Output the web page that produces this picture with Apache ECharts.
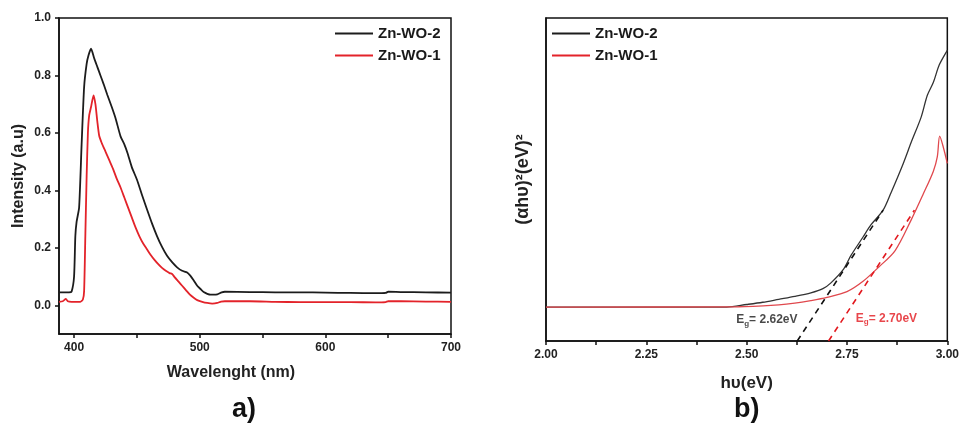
<!DOCTYPE html>
<html><head><meta charset="utf-8">
<script src="https://cdn.jsdelivr.net/npm/echarts@6/dist/echarts.min.js"></script>
<style>html,body{margin:0;padding:0;background:#fff}#c{width:962px;height:428px}</style>
</head><body><div id="c"></div>
<script>
// ---- Panel a) photoluminescence ----
const wlZnWO2 = [388,392,396,398,400,401,402,404,406,408,410,411.5,413.5,416,418.5,421,423.5,426.5,430,433,437,440,442.5,446,450,454,458,462,466,470,474,478,482,486,490,492.5,495,498,501,503.5,506,508.5,511,514,517.5,520,540,560,580,600,620,640,648,650,660,680,700];
const intZnWO2 = [0.045,0.045,0.045,0.047,0.1,0.24,0.29,0.34,0.56,0.76,0.84,0.87,0.893,0.86,0.83,0.80,0.77,0.732,0.69,0.651,0.588,0.56,0.53,0.48,0.438,0.385,0.334,0.285,0.241,0.203,0.172,0.15,0.132,0.12,0.114,0.103,0.088,0.068,0.055,0.045,0.04,0.037,0.037,0.038,0.045,0.047,0.046,0.045,0.045,0.044,0.043,0.042,0.043,0.047,0.046,0.045,0.044];
const wlZnWO1 = [388,391,393.5,395,398,402,405,407,408,409,410,411,412,413.5,415.5,417,418.5,420,422,425,428,431,434,437,440,443,446,449,452,455,458,461,464,467,470,473,476,478,480,483,486,489,492,495,498,502,506,510,514,517,520,540,560,580,600,620,640,648,650,660,680,700];
const intZnWO1 = [0.012,0.014,0.022,0.014,0.012,0.012,0.012,0.02,0.05,0.25,0.45,0.6,0.66,0.69,0.731,0.7,0.64,0.59,0.565,0.535,0.505,0.475,0.44,0.41,0.375,0.34,0.305,0.27,0.24,0.215,0.195,0.175,0.158,0.143,0.13,0.12,0.112,0.109,0.098,0.083,0.068,0.053,0.038,0.027,0.018,0.012,0.008,0.006,0.008,0.013,0.014,0.014,0.012,0.011,0.011,0.011,0.010,0.011,0.014,0.014,0.013,0.012];
const wlTicks = [400,500,600,700];
const intTicks = [0.0,0.2,0.4,0.6,0.8,1.0];

// ---- Panel b) Tauc plot ----
const hvZnWO2 = [2.00,2.45,2.50,2.54,2.58,2.62,2.66,2.69,2.71,2.74,2.76,2.79,2.81,2.84,2.86,2.89,2.91,2.935,2.95,2.965,2.98,3.0];
const tauZnWO2 = [0.105,0.105,0.113,0.12,0.129,0.138,0.149,0.162,0.18,0.22,0.265,0.322,0.36,0.405,0.46,0.549,0.615,0.694,0.76,0.80,0.855,0.9];
const hvZnWO1 = [2.00,2.48,2.58,2.62,2.66,2.70,2.75,2.79,2.83,2.87,2.91,2.94,2.965,2.975,2.981,2.99,3.0];
const tauZnWO1 = [0.105,0.106,0.112,0.117,0.125,0.135,0.153,0.185,0.23,0.28,0.375,0.455,0.525,0.57,0.634,0.60,0.55];
const fitHv2 = [2.626,2.84];
const fitTau2 = [0.0,0.405];
const fitHv1 = [2.704,2.918];
const fitTau1 = [0.0,0.405];
const egLabels = ['2.62eV','2.70eV'];
const egPosHv = [2.474,2.772];
const egPosTau = [0.065,0.07];

const zip = (a,b) => a.map((v,i)=>[v,b[i]]);
const FONT = '"Liberation Sans", Arial, sans-serif';
const BLACK = '#1c1c1c', RED = '#e3232a', RED2 = '#e0484d';

const axisCommon = {
  axisLine:{show:true,onZero:false,lineStyle:{color:'#111',width:1.5}},
  axisTick:{show:true,inside:false,length:4,lineStyle:{color:'#111',width:1.5}},
  splitLine:{show:false},
  axisLabel:{color:'#222',fontFamily:FONT,fontWeight:'bold',fontSize:12,margin:8},
  nameTextStyle:{color:'#222',fontFamily:FONT,fontWeight:'bold',fontSize:16},
  nameLocation:'middle'
};

const legendCommon = {orient:'vertical',icon:'rect',itemWidth:38,itemHeight:2,itemGap:5,
  data:['Zn-WO-2','Zn-WO-1'],selectedMode:false,
  textStyle:{fontFamily:FONT,fontWeight:'bold',fontSize:15,color:'#1a1a1a',lineHeight:17}};

const chart = echarts.init(document.getElementById('c'), null, {renderer:'canvas'});
chart.setOption({
  animation:false,
  backgroundColor:'#fff',
  grid:[
    {left:59,top:18,width:392,height:316,show:true,borderColor:'#111',borderWidth:1.5,backgroundColor:'transparent'},
    {left:546,top:18,width:403,height:323,show:true,borderColor:'#111',borderWidth:1.5,backgroundColor:'transparent'}
  ],
  xAxis:[
    Object.assign({}, axisCommon, {type:'value',gridIndex:0,min:388,max:700,name:'Wavelenght (nm)',nameGap:31,
      nameTextStyle:Object.assign({},axisCommon.nameTextStyle,{padding:[0,48,0,0]}),
      axisLabel:Object.assign({},axisCommon.axisLabel,{customValues:wlTicks}),
      axisTick:Object.assign({},axisCommon.axisTick,{customValues:[400,450,500,550,600,650,700]})}),
    Object.assign({}, axisCommon, {type:'value',gridIndex:1,min:2,max:3,interval:0.25,name:'hυ(eV)',nameGap:34,
      nameTextStyle:Object.assign({},axisCommon.nameTextStyle,{fontSize:17}),
      axisLabel:Object.assign({},axisCommon.axisLabel,{formatter:v=>v.toFixed(2)}),
      minorTick:{show:true,splitNumber:2,length:4,lineStyle:{color:'#111',width:1.5}}})
  ],
  yAxis:[
    Object.assign({}, axisCommon, {type:'value',gridIndex:0,min:-0.1,max:1.0,name:'Intensity (a.u)',nameGap:32,
      axisLabel:Object.assign({},axisCommon.axisLabel,{customValues:intTicks,formatter:v=>v.toFixed(1)}),
      axisTick:Object.assign({},axisCommon.axisTick,{customValues:intTicks})}),
    Object.assign({}, axisCommon, {type:'value',gridIndex:1,min:0,max:1,name:'(αhυ)²(eV)²',nameGap:14,
      nameTextStyle:Object.assign({},axisCommon.nameTextStyle,{fontSize:18}),
      axisLabel:{show:false},axisTick:{show:false}})
  ],
  legend:[
    Object.assign({left:330,top:20}, legendCommon),
    Object.assign({left:547,top:20}, legendCommon)
  ],
  series:[
    {name:'Zn-WO-2',type:'line',xAxisIndex:0,yAxisIndex:0,data:zip(wlZnWO2,intZnWO2),symbol:'none',smooth:0.2,
      lineStyle:{color:BLACK,width:1.8},itemStyle:{color:BLACK}},
    {name:'Zn-WO-1',type:'line',xAxisIndex:0,yAxisIndex:0,data:zip(wlZnWO1,intZnWO1),symbol:'none',smooth:0.2,
      lineStyle:{color:RED,width:1.8},itemStyle:{color:RED}},
    {name:'Zn-WO-2',type:'line',xAxisIndex:1,yAxisIndex:1,data:zip(hvZnWO2,tauZnWO2),symbol:'none',smooth:0.3,
      lineStyle:{color:'#333',width:1.3},itemStyle:{color:'#333'}},
    {name:'Zn-WO-1',type:'line',xAxisIndex:1,yAxisIndex:1,data:zip(hvZnWO1,tauZnWO1),symbol:'none',smooth:0.3,
      lineStyle:{color:RED2,width:1.3},itemStyle:{color:RED2}},
    {name:'fit2',type:'line',xAxisIndex:1,yAxisIndex:1,data:zip(fitHv2,fitTau2),symbol:'none',
      lineStyle:{color:'#111',width:1.6,type:[6,5]}},
    {name:'fit1',type:'line',xAxisIndex:1,yAxisIndex:1,data:zip(fitHv1,fitTau1),symbol:'none',
      lineStyle:{color:'#e2181e',width:1.6,type:[6,5]}},
    {name:'eg',type:'scatter',xAxisIndex:1,yAxisIndex:1,symbolSize:0,
      data:egLabels.map((t,i)=>({value:[egPosHv[i],egPosTau[i]],label:{
        formatter:'{m|E}{s|g}{m|= '+t+'}',
        rich:{m:{fontFamily:FONT,fontWeight:'bold',fontSize:12,color:i?'#e2181e':'#1a1a1a'},
              s:{fontFamily:FONT,fontWeight:'bold',fontSize:8,color:i?'#e2181e':'#1a1a1a',padding:[7,0,0,0]}}}})),
      label:{show:true,position:'right',distance:0}}
  ],
  graphic:[
    {type:'text',left:232,top:396,style:{text:'a)',font:'bold 27px '+FONT,fill:'#111'}},
    {type:'text',left:734,top:396,style:{text:'b)',font:'bold 27px '+FONT,fill:'#111'}}
  ]
});
</script></body></html>
